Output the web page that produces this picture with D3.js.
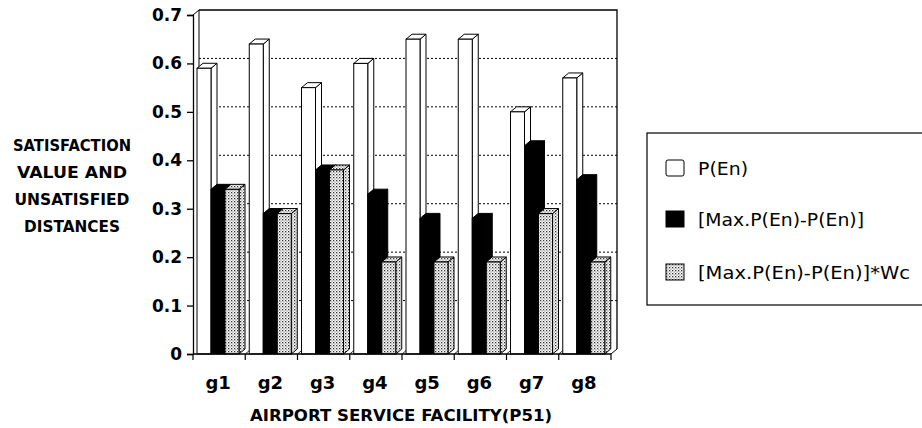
<!DOCTYPE html>
<html>
<head>
<meta charset="utf-8">
<script src="https://cdn.jsdelivr.net/npm/d3@7"></script>
<style>
  html, body { margin: 0; padding: 0; background: #fff; }
  svg { display: block; }
  text { font-family: "DejaVu Sans", "Noto Sans", sans-serif; fill: #000; }
</style>
</head>
<body>
<svg id="chart" width="922" height="428"></svg>
<script>
// ---- data ----
const categories = ["g1", "g2", "g3", "g4", "g5", "g6", "g7", "g8"];
const pEn       = [0.59, 0.64, 0.55, 0.60, 0.65, 0.65, 0.50, 0.57];
const maxDiff   = [0.34, 0.29, 0.38, 0.33, 0.28, 0.28, 0.43, 0.36];
const weighted  = [0.34, 0.29, 0.38, 0.19, 0.19, 0.19, 0.29, 0.19];
const seriesNames = ["P(En)", "[Max.P(En)-P(En)]", "[Max.P(En)-P(En)]*Wc"];
const yTicks = [0, 0.1, 0.2, 0.3, 0.4, 0.5, 0.6, 0.7];
const yTitle = ["SATISFACTION", "VALUE AND", "UNSATISFIED", "DISTANCES"];
const xTitle = "AIRPORT SERVICE FACILITY(P51)";

const svg = d3.select("#chart");
const defs = svg.append("defs");
const pat = defs.append("pattern").attr("id", "dots")
  .attr("width", 3).attr("height", 3).attr("patternUnits", "userSpaceOnUse");
pat.append("rect").attr("width", 3).attr("height", 3).attr("fill", "#fff");
pat.append("rect").attr("x", 0).attr("y", 0).attr("width", 1.3).attr("height", 1.3).attr("fill", "#333");
pat.append("rect").attr("x", 1.5).attr("y", 1.5).attr("width", 1.1).attr("height", 1.1).attr("fill", "#666");

const x0 = 193, x1 = 611;
const dx = 6, dy = 5;
const y = d3.scaleLinear().domain([0, 0.7]).range([354, 15]);
const xBand = d3.scaleBand().domain(categories).range([x0, x1]).paddingInner(0).paddingOuter(0);

// back wall
const g = svg.append("g");
g.append("path")
  .attr("d", `M${x0+dx},${y(0.7)-dy} L${x1+dx},${y(0.7)-dy} L${x1+dx},${y(0)-dy}`)
  .attr("fill", "none").attr("stroke", "#000").attr("stroke-width", 1.3);
g.append("line").attr("x1", x0+dx).attr("x2", x0+dx).attr("y1", y(0.7)-dy).attr("y2", y(0)-dy)
  .attr("stroke", "#000").attr("stroke-width", 1);
g.append("line").attr("x1", x0).attr("y1", y(0.7)).attr("x2", x0+dx).attr("y2", y(0.7)-dy)
  .attr("stroke", "#000").attr("stroke-width", 1);
g.append("line").attr("x1", x1).attr("y1", y(0)).attr("x2", x1+dx).attr("y2", y(0)-dy)
  .attr("stroke", "#000").attr("stroke-width", 1);
// gridlines
g.selectAll("line.grid").data(yTicks.filter(t => t > 0 && t < 0.7)).join("line")
  .attr("class", "grid")
  .attr("x1", x0+dx).attr("x2", x1+dx)
  .attr("y1", d => y(d)-dy).attr("y2", d => y(d)-dy)
  .attr("stroke", "#000").attr("stroke-width", 1).attr("stroke-dasharray", "2,2");
g.selectAll("line.floor").data(categories.slice(1)).join("line")
  .attr("class", "floor")
  .attr("x1", d => xBand(d)).attr("y1", y(0))
  .attr("x2", d => xBand(d)+dx).attr("y2", y(0)-dy)
  .attr("stroke", "#000").attr("stroke-width", 0.8);

// bars
const series = [
  { vals: pEn, front: "#fff", side: "#fff", top: "#fff", off: 4 },
  { vals: maxDiff, front: "#000", side: "#000", top: "#000", off: 18 },
  { vals: weighted, front: "url(#dots)", side: "url(#dots)", top: "url(#dots)", off: 32 }
];
const bw = 14;
const barsG = svg.append("g");
categories.forEach((c, i) => {
  series.forEach(s => {
    const v = s.vals[i];
    const bx = xBand(c) + s.off;
    const yt = y(v), yb = y(0);
    const bg = barsG.append("g");
    bg.append("polygon")
      .attr("points", `${bx+bw},${yt} ${bx+bw+dx},${yt-dy} ${bx+bw+dx},${yb-dy} ${bx+bw},${yb}`)
      .attr("fill", s.side).attr("stroke", "#000").attr("stroke-width", 1);
    bg.append("polygon")
      .attr("points", `${bx},${yt} ${bx+dx},${yt-dy} ${bx+bw+dx},${yt-dy} ${bx+bw},${yt}`)
      .attr("fill", s.top).attr("stroke", "#000").attr("stroke-width", 1);
    bg.append("rect")
      .attr("x", bx).attr("y", yt).attr("width", bw).attr("height", yb - yt)
      .attr("fill", s.front).attr("stroke", "#000").attr("stroke-width", 1);
  });
});

// y axis
const yAxis = d3.axisLeft(y).tickValues(yTicks).tickSize(6).tickPadding(5)
  .tickFormat(d => d === 0 ? "0" : d3.format(".1f")(d));
const ya = svg.append("g").attr("transform", `translate(${x0},0)`).call(yAxis);
ya.selectAll("path, line").attr("stroke", "#000").attr("stroke-width", 1.3);
ya.selectAll("text").style("font-size", "17px").style("font-weight", "bold")
  .style("font-family", "'DejaVu Sans', sans-serif");

// x axis
const xa = svg.append("g").attr("transform", `translate(0,${y(0)})`);
xa.append("line").attr("x1", x0).attr("x2", x1).attr("stroke", "#000").attr("stroke-width", 1.3);
xa.selectAll("line.tk").data(d3.range(categories.length + 1)).join("line")
  .attr("class", "tk")
  .attr("x1", i => x0 + i * xBand.bandwidth()).attr("x2", i => x0 + i * xBand.bandwidth())
  .attr("y1", 0).attr("y2", 6).attr("stroke", "#000").attr("stroke-width", 1.2);
svg.selectAll("text.xl").data(categories).join("text")
  .attr("class", "xl")
  .attr("x", d => xBand(d) + xBand.bandwidth() / 2 - 1)
  .attr("y", 389)
  .attr("text-anchor", "middle")
  .style("font-size", "18px").style("font-weight", "bold")
  .text(d => d);

// axis titles
svg.append("text").attr("x", 250).attr("y", 421)
  .attr("textLength", 302).attr("lengthAdjust", "spacingAndGlyphs")
  .style("font-size", "16px").style("font-weight", "bold").text(xTitle);
const yTitleW = [118, 110, 115, 96];
svg.selectAll("text.yt").data(yTitle).join("text")
  .attr("class", "yt")
  .attr("x", (d, i) => 72 - yTitleW[i] / 2).attr("y", (d, i) => 151 + i * 27)
  .attr("textLength", (d, i) => yTitleW[i]).attr("lengthAdjust", "spacingAndGlyphs")
  .style("font-size", "15px").style("font-weight", "bold")
  .text(d => d);

// legend
const lg = svg.append("g");
lg.append("rect").attr("x", 647).attr("y", 133).attr("width", 290).attr("height", 172)
  .attr("fill", "#fff").attr("stroke", "#000").attr("stroke-width", 1.2);
const legFill = ["#fff", "#000", "url(#dots)"];
const legY = [168, 219, 272];
const legW = [50, 166, 212];
seriesNames.forEach((nm, i) => {
  lg.append("rect").attr("x", 666).attr("y", legY[i] - 8).attr("width", 18).attr("height", 16)
    .attr("rx", i === 0 ? 2 : 0)
    .attr("fill", legFill[i]).attr("stroke", "#000").attr("stroke-width", 1);
  lg.append("text").attr("x", 698).attr("y", legY[i] + 7)
    .attr("textLength", legW[i]).attr("lengthAdjust", "spacingAndGlyphs")
    .style("font-size", "18px").text(nm);
});
</script>
</body>
</html>
